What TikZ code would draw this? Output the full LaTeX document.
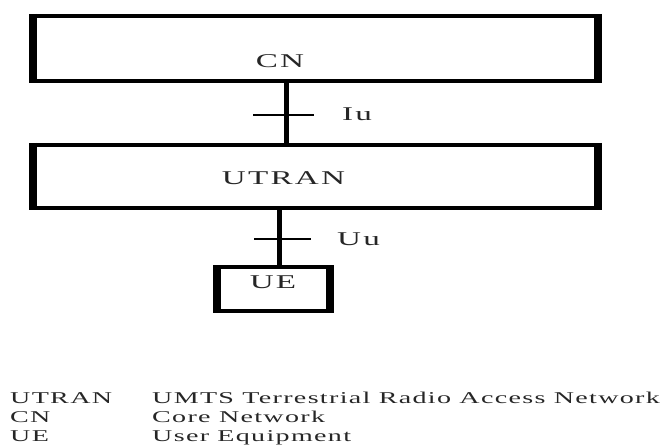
\documentclass[tikz,border=0pt]{standalone}
\usepackage{fontspec}
\setmainfont{Liberation Serif}
\newfontfamily\widefont[FakeStretch=1.7,LetterSpace=11.5]{Liberation Serif}
\newfontfamily\legendfont[FakeStretch=1.7,LetterSpace=8]{Liberation Serif}
\usepackage{tikz}
\usetikzlibrary{calc}

\begin{document}
\begin{tikzpicture}[
  x=1pt, y=-1pt,
  netbox/.style={
    rectangle, draw=black, line width=4pt, outer sep=0pt, inner sep=0pt,
  },
  boxside/.style={draw=black, line width=8pt},
  boxtext/.style={
    font=\widefont\fontsize{19.5}{22}\selectfont, text=black!85,
    inner sep=0pt, anchor=base,
  },
  legend/.style={
    font=\legendfont\fontsize{16.5}{19}\selectfont, text=black!85,
    inner sep=0pt, anchor=base west,
  },
  link/.style={draw=black, line width=5pt},
  tickline/.style={draw=black, line width=2.5pt},
]
  \useasboundingbox (0,0) rectangle (671,446);

  % Network elements
  \node[netbox, minimum width=565pt, minimum height=65pt] (cn) at (315.5,48.5) {};
  \node[netbox, minimum width=565pt, minimum height=63pt] (utran) at (315.5,176.5) {};
  \node[netbox, minimum width=113pt, minimum height=44pt] (ue) at (273,289) {};
  \foreach \b in {cn,utran,ue}
    \draw[boxside] ([yshift=2pt]\b.north west) -- ([yshift=-2pt]\b.south west)
                   ([yshift=2pt]\b.north east) -- ([yshift=-2pt]\b.south east);

  \node[boxtext] (cn-text) at (280,67.5) {CN};
  \node[boxtext] (utran-text) at (283.5,184.5) {UTRAN};
  \node[boxtext] (ue-text) at (273,288.5) {UE};

  % Interfaces
  \coordinate (iu) at (286,115);
  \coordinate (uu) at (279,239);
  \draw[link] (iu |- cn.south) -- (iu |- utran.north);
  \draw[tickline] ([xshift=-33pt]iu) -- ([xshift=28pt]iu);
  \draw[link] (uu |- utran.south) -- (uu |- ue.north);
  \draw[tickline] ([xshift=-25pt]uu) -- ([xshift=32pt]uu);
  \node[boxtext, anchor=base west] (iu-text) at (342,120.5) {Iu};
  \node[boxtext, anchor=base west] (uu-text) at (337,245.5) {Uu};

  % Abbreviations
  \node[legend] (lg-utran) at (10,403.5) {UTRAN};
  \node[legend] (lg-utran-def) at (152,403.5) {UMTS Terrestrial Radio Access Network};
  \node[legend] (lg-cn) at (10,422.5) {CN};
  \node[legend] (lg-cn-def) at (152,422.5) {Core Network};
  \node[legend] (lg-ue) at (10,441.5) {UE};
  \node[legend] (lg-ue-def) at (152,441.5) {User Equipment};
\end{tikzpicture}
\end{document}
